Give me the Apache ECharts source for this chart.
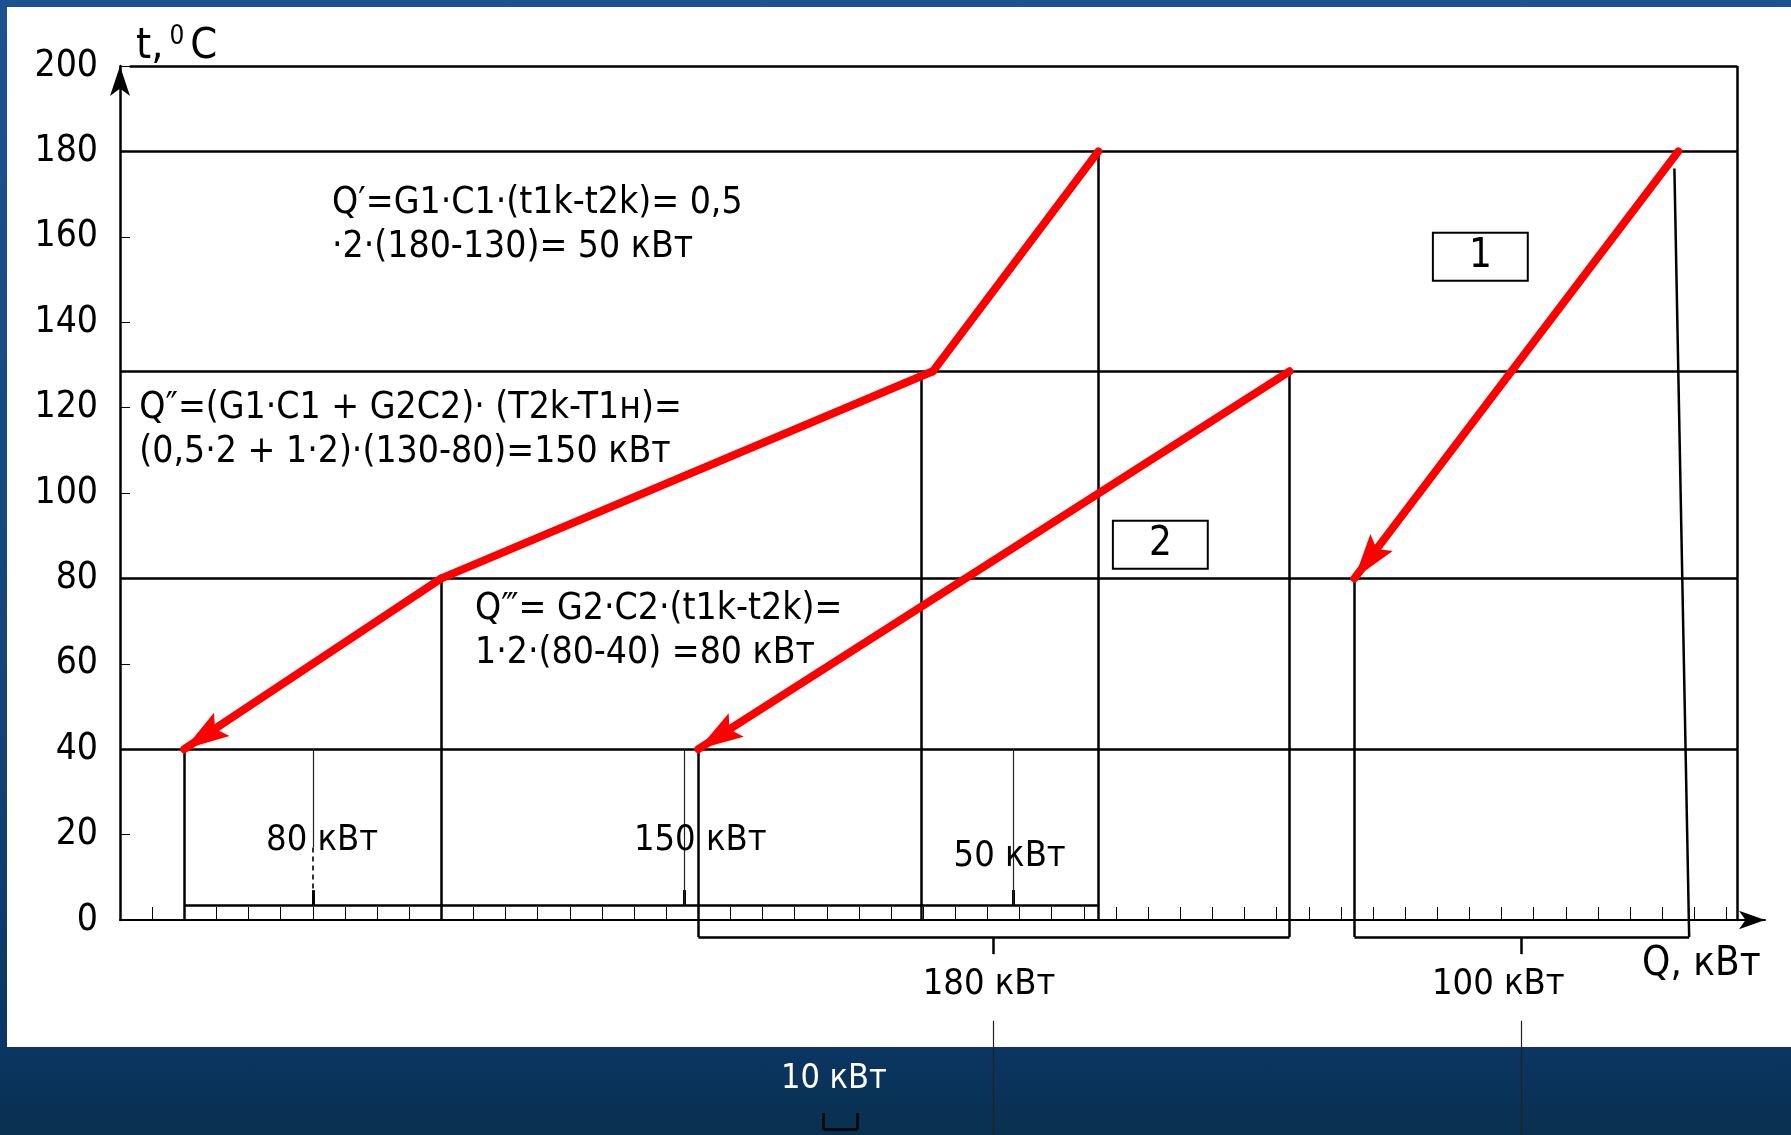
<!DOCTYPE html>
<html>
<head>
<meta charset="utf-8">
<script src="https://cdn.jsdelivr.net/npm/echarts@6/dist/echarts.min.js"></script>
<style>
  html, body { margin: 0; padding: 0; }
  body {
    width: 1791px; height: 1135px; overflow: hidden; position: relative;
    background: linear-gradient(180deg, #1d5190 0%, #154578 60%, #0b3663 92%, #08304f 100%);
  }
  #sheet { position: absolute; left: 7px; top: 7px; width: 1784px; height: 1040px; background: #fff; }
  #chart { position: absolute; left: 0; top: 0; width: 1791px; height: 1135px; }
</style>
</head>
<body>
<div id="sheet"></div>
<div id="chart"></div>
<script>
  // 温度刻度, °C
  var tempTicks = [0, 20, 40, 60, 80, 100, 120, 140, 160, 180, 200];
  // Q 轴小刻度 (每 10 кВт)
  var qTicks = [];
  for (var q = 10; q <= 500; q += 10) qTicks.push(q);

  // 水平温度线
  var levels = [40, 80, 128.5, 180, 200];
  var frameQ = 503.4;

  // 热/冷流线 (Q, t)
  var hotPath = [[304.5, 180], [253, 128.5], [100, 80], [20, 40]];
  var coldPath2 = [[364, 128.5], [180, 40]];
  var coldPath1 = [[485, 180], [384.2, 80]];

  // 竖线: 上端点, 落到上括号 / 下括号
  var dropsToAxis = [[20, 40], [100, 80], [249.5, 128.5], [304.5, 180], [frameQ, 200]];
  var dropsToBrace = [[180, 40], [364, 128.5], [384.2, 80]];
  var slantDrop = [[483.8, 176], [488.4, -4]];

  var braceTopT = 3.5;
  var braceBottomT = -4;
  var topBraceSpan = [20, 304.5];
  var topBraceMids = [60, 175.5, 278];
  var bottomBraces = [[180, 364, 271.8], [384.2, 488.4, 436.2]];
  var tenKw = [219, 229.5];

  // 文本
  var formulas = [
    { at: [66, 162.6], text: 'Q′=G1·C1·(t1k-t2k)= 0,5\n·2·(180-130)= 50 кВт' },
    { at: [6, 114.7], text: 'Q″=(G1·C1 + G2C2)· (T2k-T1н)=\n(0,5·2 + 1·2)·(130-80)=150 кВт' },
    { at: [110.5, 67.7], text: 'Q‴= G2·C2·(t1k-t2k)=\n1·2·(80-40) =80 кВт' }
  ];
  var loadLabels = [
    { at: [62.9, 18.6], text: '80 кВт' },
    { at: [180.6, 18.6], text: '150 кВт' },
    { at: [276.9, 14.8], text: '50 кВт' },
    { at: [270.5, -15.1], text: '180 кВт' },
    { at: [429, -15.1], text: '100 кВт' }
  ];
  var axisTitle = { at: [492.2, -10.5], text: 'Q, кВт' };
  var streamBoxes = [
    { at: [423.4, 155.3], text: '1' },
    { at: [323.8, 87.9], text: '2' }
  ];
  var scaleLabel = { at: [222.2, -37.3], text: '10 кВт' };

  var FONT = '"DejaVu Sans Condensed", "DejaVu Sans", sans-serif';
  var NARROW = '"Liberation Sans Narrow", "DejaVu Sans Condensed", sans-serif';
  var ARROW = 'path://M9.9,0 L10.1,0 L10,0.2 Z M10,50 L22,100 L10,91 L-2,100 Z';

  function seg(a, b) { return { coords: [a, b] }; }

  function lineSeries(data, color, width, extra) {
    var s = {
      type: 'lines', coordinateSystem: 'cartesian2d', silent: true, clip: false,
      lineStyle: { color: color, width: width, opacity: 1, curveness: 0 },
      data: data
    };
    for (var k in extra) s[k] = extra[k];
    return s;
  }

  function labelSeries(items, labelOpt) {
    return {
      type: 'scatter', symbolSize: 0, silent: true, clip: false,
      itemStyle: { opacity: 1 },
      data: items.map(function (d) {
        return { value: d.at, label: { formatter: d.text } };
      }),
      label: labelOpt
    };
  }

  // 组装线段
  var levelSegs = levels.map(function (t) { return seg([t === 200 ? 3 : 0, t], [frameQ, t]); });
  var dropSegs = dropsToAxis.map(function (p) { return seg(p, [p[0], 0]); })
    .concat(dropsToBrace.map(function (p) { return seg(p, [p[0], braceBottomT]); }))
    .concat([seg(slantDrop[0], slantDrop[1])]);
  var braceSegs = [seg([topBraceSpan[0], braceTopT], [topBraceSpan[1], braceTopT])];
  bottomBraces.forEach(function (b) {
    braceSegs.push(seg([b[0], braceBottomT], [b[1], braceBottomT]));
    braceSegs.push(seg([b[2], braceBottomT], [b[2], braceBottomT - 4]));
  });
  braceSegs.push(seg([tenKw[0], -45.2], [tenKw[0], -49]));
  braceSegs.push(seg([tenKw[0], -49], [tenKw[1], -49]));
  braceSegs.push(seg([tenKw[1], -49], [tenKw[1], -45.2]));
  var spikeSegs = topBraceMids.map(function (x) { return seg([x, braceTopT], [x, braceTopT + 3.5]); });
  var thinSegs = [seg([topBraceMids[0], 40], [topBraceMids[0], 17])]
    .concat(topBraceMids.slice(1).map(function (x) { return seg([x, 40], [x, braceTopT]); }))
    .concat(bottomBraces.map(function (b) { return seg([b[2], -23.6], [b[2], -52]); }));
  var dashedSegs = [seg([topBraceMids[0], 17], [topBraceMids[0], braceTopT + 3])];

  var redSegs = [seg(hotPath[0], hotPath[1]), seg(hotPath[1], hotPath[2])];
  var redArrows = [seg(hotPath[2], hotPath[3]), seg(coldPath2[0], coldPath2[1]), seg(coldPath1[0], coldPath1[1])];

  var chart = echarts.init(document.getElementById('chart'));
  chart.setOption({
    animation: false,
    grid: { left: 120, right: 26, top: 66, bottom: 215 },
    xAxis: {
      type: 'value', min: 0, max: 512, interval: 10,
      axisLine: { show: true, symbol: ['none', 'arrow'], symbolSize: [14, 26], lineStyle: { color: '#000', width: 2 } },
      axisTick: { show: true, inside: true, length: 13, customValues: qTicks, lineStyle: { color: '#000', width: 1 } },
      axisLabel: { show: false },
      splitLine: { show: false }
    },
    yAxis: {
      type: 'value', min: 0, max: 200, interval: 20,
      name: '{a|t,}{s|0}{a|C}',
      nameLocation: 'end', nameGap: -4,
      nameTextStyle: {
        align: 'left', verticalAlign: 'bottom', padding: [0, 0, 0, 16],
        rich: {
          a: { fontFamily: FONT, fontSize: 43, color: '#000', lineHeight: 46 },
          s: { fontFamily: FONT, fontSize: 26, color: '#000', verticalAlign: 'top', padding: [0, 6, 14, 6], lineHeight: 46 }
        }
      },
      axisLine: { show: true, symbol: ['none', 'arrow'], symbolSize: [15, 30], lineStyle: { color: '#000', width: 2.5 } },
      axisTick: { show: true, inside: true, length: 10, customValues: tempTicks, lineStyle: { color: '#000', width: 1 } },
      axisLabel: { color: '#000', fontFamily: NARROW, fontSize: 37, margin: 22, customValues: tempTicks },
      splitLine: { show: false }
    },
    series: [
      lineSeries(levelSegs, '#000', 2.5),
      lineSeries(dropSegs, '#000', 2.5),
      lineSeries(braceSegs, '#000', 2.5),
      lineSeries(spikeSegs, '#000', 3),
      lineSeries(thinSegs, '#222', 1.2),
      lineSeries(dashedSegs, '#000', 1.6, { lineStyle: { color: '#000', width: 1.6, type: [5, 4], opacity: 1 } }),
      lineSeries(redSegs, '#ff0000', 8, { lineStyle: { color: '#ff0000', width: 8, cap: 'round', opacity: 1 } }),
      lineSeries(redArrows, '#ff0000', 8, {
        lineStyle: { color: '#ff0000', width: 8, cap: 'round', opacity: 1 },
        symbol: ['none', ARROW], symbolSize: [0, [28, 90]]
      }),
      labelSeries(formulas, { show: true, position: 'right', distance: 0, color: '#000', fontFamily: FONT, fontSize: 37, lineHeight: 44 }),
      labelSeries(loadLabels, { show: true, position: 'inside', color: '#000', fontFamily: FONT, fontSize: 36 }),
      labelSeries([axisTitle], { show: true, position: 'inside', color: '#000', fontFamily: FONT, fontSize: 40 }),
      labelSeries(streamBoxes, {
        show: true, position: 'inside', color: '#000', fontFamily: FONT, fontSize: 40, lineHeight: 40,
        backgroundColor: '#fff', borderColor: '#000', borderWidth: 2, padding: [3, 35, 3, 35]
      }),
      labelSeries([scaleLabel], { show: true, position: 'inside', color: '#fff', fontFamily: FONT, fontSize: 34 })
    ]
  });
</script>
</body>
</html>
